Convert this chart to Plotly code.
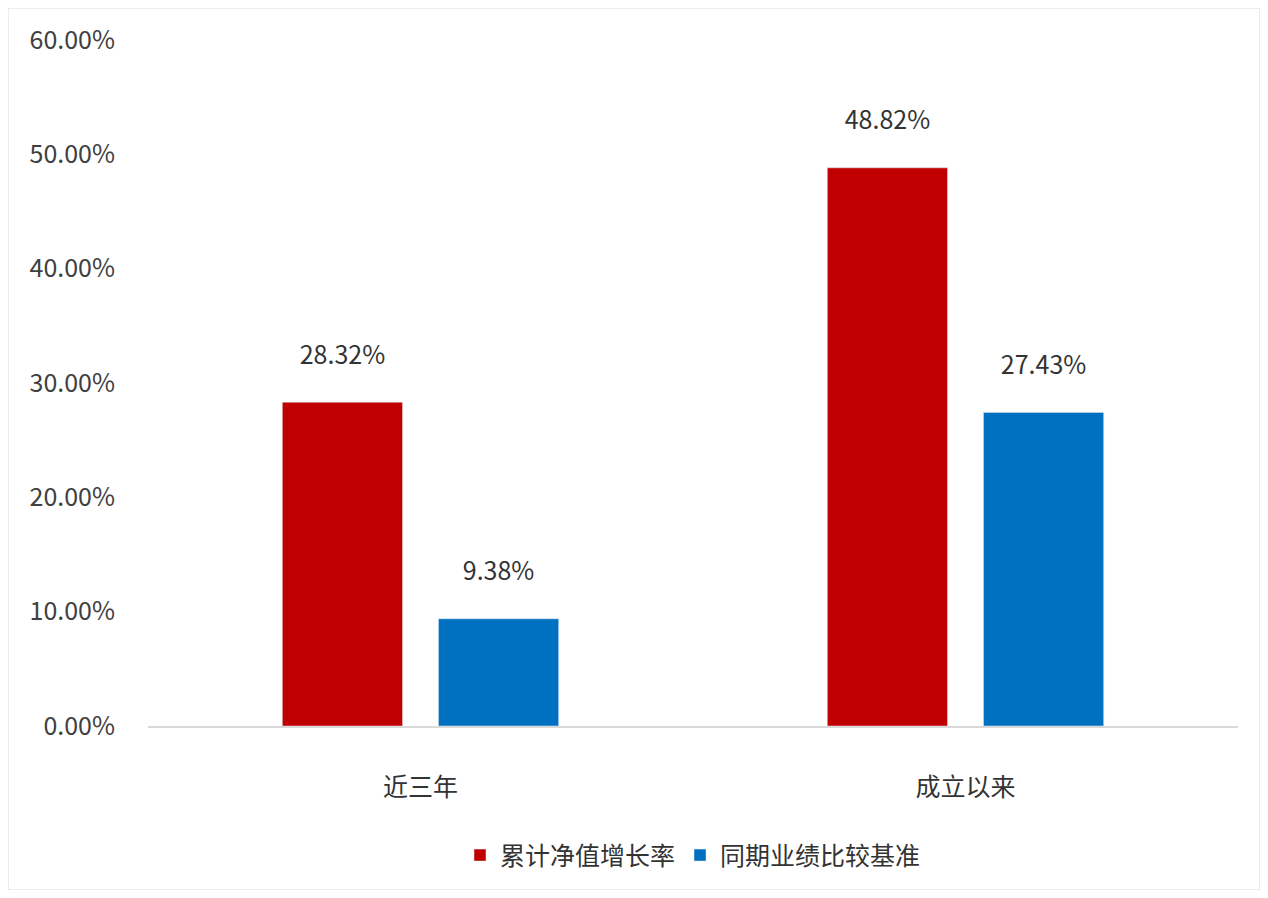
import plotly.graph_objects as go

categories = ["近三年", "成立以来"]
series_names = ["累计净值增长率", "同期业绩比较基准"]
nav_growth = [0.2832, 0.4882]
benchmark = [0.0938, 0.2743]
colors = ["#C00000", "#0070C0"]

fig = go.Figure()
for name, vals, c in zip(series_names, [nav_growth, benchmark], colors):
    fig.add_trace(go.Bar(
        x=categories, y=vals, name=name, marker_color=c,
        text=[f"{v*100:.2f}%<br><span style='font-size:12px'> </span>" for v in vals],
        textposition="outside",
        textfont=dict(size=25, color="#333333"), cliponaxis=False))

fig.update_layout(
    width=1252, height=882, paper_bgcolor="white", plot_bgcolor="white",
    margin=dict(l=140, r=22, t=32, b=164),
    font=dict(family="Noto Sans CJK SC", size=25, color="#404040"),
    barmode="group", bargap=0.427, bargroupgap=0.23,
    showlegend=True,
    legend=dict(orientation="h", x=0.5, xanchor="center", y=-0.155, yanchor="top",
                font=dict(size=25, color="#333333")),
    yaxis=dict(range=[0, 0.6], dtick=0.1, tickformat=".2%", showgrid=False,
               zeroline=False, ticks="", ticklabelstandoff=32),
    xaxis=dict(showline=True, linecolor="#D9D9D9", linewidth=1.5, ticks="",
               ticklabelstandoff=38, tickfont=dict(size=25, color="#333333")),
)
fig.add_shape(type="rect", xref="paper", yref="paper", x0=-140/1090, x1=1+22/1090,
              y0=-164/686, y1=1+32/686, line=dict(color="#D9D9D9", width=1))
fig.write_html("out.html")
